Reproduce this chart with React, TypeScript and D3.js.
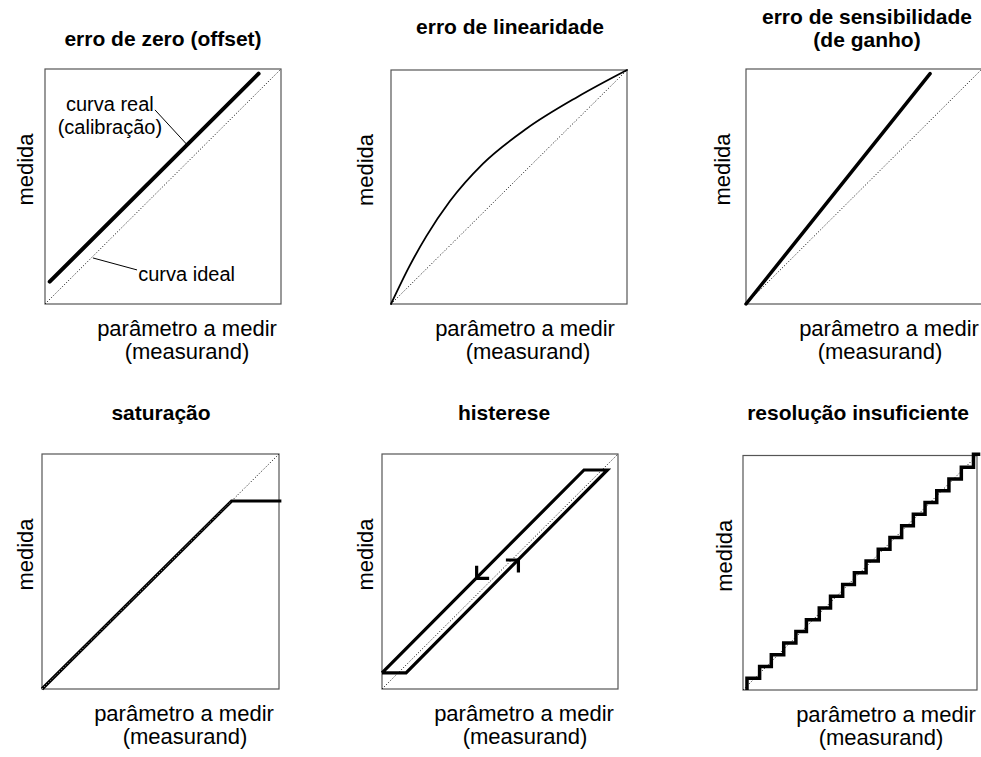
import { useEffect, useRef } from "react";
import * as d3 from "d3";

type Pt = [number, number];

// Titles, one entry per panel (multi-line titles are arrays of lines).
const TITLES: string[][] = [
  ["erro de zero (offset)"],
  ["erro de linearidade"],
  ["erro de sensibilidade", "(de ganho)"],
  ["saturação"],
  ["histerese"],
  ["resolução insuficiente"],
];
const X_LABEL = ["parâmetro a medir", "(measurand)"];
const Y_LABEL = "medida";

// All curves live in a normalised 0..1 space (measurand -> medida).
const IDEAL: Pt[] = [[0, 0], [1, 1]];
const OFFSET_REAL: Pt[] = [[0.02, 0.095], [0.905, 0.98]];
const LINEARITY_REAL: Pt[] = [
  [0, 0], [0.08, 0.165], [0.15, 0.29], [0.25, 0.44], [0.39, 0.6],
  [0.575, 0.75], [0.79, 0.885], [1, 1],
];
const GAIN_REAL: Pt[] = [[0, 0], [0.78, 0.98]];
const SATURATION_REAL: Pt[] = [[0, 0], [0.8, 0.8], [1.01, 0.8]];
const HYSTERESIS_LOOP: Pt[] = [[0, 0.069], [0.102, 0.069], [0.955, 0.932], [0.856, 0.932]];
// arrow tips on the two branches: going down on the upper one, up on the lower one
const HYSTERESIS_ARROWS: { at: Pt; dir: "down" | "up" }[] = [
  { at: [0.401, 0.471], dir: "down" },
  { at: [0.578, 0.549], dir: "up" },
];
// quantised response: riser positions and the level reached after each riser
const STEP_X = [
  0.017, 0.071, 0.121, 0.174, 0.226, 0.271, 0.326, 0.374, 0.426, 0.476,
  0.526, 0.578, 0.628, 0.678, 0.728, 0.778, 0.828, 0.88, 0.933, 0.985,
];
const STEP_LEVEL = [
  0.05, 0.1, 0.15, 0.2, 0.25, 0.3, 0.35, 0.4, 0.45, 0.5,
  0.55, 0.6, 0.65, 0.7, 0.75, 0.8, 0.85, 0.9, 0.95, 1.005,
];
const STEP_END_X = 1.014;

// callouts on the offset panel (text centred on `at`)
const CALLOUTS: { lines: string[]; at: Pt; leader: [Pt, Pt] }[] = [
  { lines: ["curva real", "(calibração)"], at: [0.275, 0.822], leader: [[0.466, 0.826], [0.6, 0.68]] },
  { lines: ["curva ideal"], at: [0.6, 0.098], leader: [[0.203, 0.196], [0.39, 0.145]] },
];

// Panel boxes in page pixels.
const LAYOUT = [
  { x: 45, y: 69, w: 236, h: 235, titleY: [46], titleX: 163, labelX: [187, 187], medidaX: 33 },
  { x: 391, y: 70, w: 236, h: 234, titleY: [34], titleX: 510, labelX: [525, 528], medidaX: 373 },
  { x: 746, y: 69, w: 236, h: 235, titleY: [24, 47], titleX: 867, labelX: [889, 880], medidaX: 730 },
  { x: 42, y: 454, w: 237, h: 235, titleY: [420], titleX: 161, labelX: [184, 185], medidaX: 33 },
  { x: 382, y: 454, w: 236, h: 235, titleY: [420], titleX: 504, labelX: [524, 525], medidaX: 373 },
  { x: 743, y: 455.5, w: 234, h: 234.5, titleY: [420], titleX: 858, labelX: [886, 881], medidaX: 732 },
];

const FONT = "'Liberation Sans', Arial, Helvetica, sans-serif";

export default function App(): JSX.Element {
  const svgRef = useRef<SVGSVGElement | null>(null);

  useEffect(() => {
    if (!svgRef.current) return;
    const svg = d3.select(svgRef.current);
    svg.selectAll("*").remove();

    LAYOUT.forEach((p, i) => {
      const x = d3.scaleLinear().domain([0, 1]).range([p.x, p.x + p.w]);
      const y = d3.scaleLinear().domain([0, 1]).range([p.y + p.h, p.y]);
      const line = d3.line<Pt>().x((d) => x(d[0])).y((d) => y(d[1]));
      const g = svg.append("g");

      g.append("rect")
        .attr("x", x(0))
        .attr("y", y(1))
        .attr("width", x(1) - x(0))
        .attr("height", y(0) - y(1))
        .attr("fill", "none")
        .attr("stroke", "#555")
        .attr("stroke-width", 1.2);

      // ideal response, dotted diagonal
      g.append("path")
        .attr("d", line(IDEAL))
        .attr("fill", "none")
        .attr("stroke", "#000")
        .attr("stroke-width", 1)
        .attr("stroke-dasharray", "1,2");

      const real = (pts: Pt[], w: number, curve: d3.CurveFactory = d3.curveLinear) =>
        g.append("path")
          .attr("d", line.curve(curve)(pts))
          .attr("fill", "none")
          .attr("stroke", "#000")
          .attr("stroke-width", w)
          .attr("stroke-linejoin", "miter")
          .attr("stroke-linecap", "round");

      if (i === 0) {
        real(OFFSET_REAL, 4);
        CALLOUTS.forEach((c) => {
          g.append("path")
            .attr("d", line.curve(d3.curveLinear)(c.leader))
            .attr("stroke", "#000")
            .attr("stroke-width", 1);
          c.lines.forEach((t, k) => {
            g.append("text")
              .attr("x", x(c.at[0]))
              .attr("y", y(c.at[1]) + k * 23)
              .attr("text-anchor", "middle")
              .attr("font-family", FONT)
              .attr("font-size", 20)
              .text(t);
          });
        });
      } else if (i === 1) {
        real(LINEARITY_REAL, 1.8, d3.curveMonotoneX);
      } else if (i === 2) {
        real(GAIN_REAL, 3.5);
      } else if (i === 3) {
        real(SATURATION_REAL, 3.2).attr("stroke-linecap", "butt");
        // the ideal dots still show faintly through the coincident segment
        g.append("path")
          .attr("d", line.curve(d3.curveLinear)(SATURATION_REAL.slice(0, 2)))
          .attr("fill", "none")
          .attr("stroke", "#bbb")
          .attr("stroke-width", 1)
          .attr("stroke-dasharray", "1,2");
      } else if (i === 4) {
        real([...HYSTERESIS_LOOP, HYSTERESIS_LOOP[0]], 3.2).attr("stroke-linecap", "butt");
        // little L-shaped heads: 12.5px legs, one vertical and one horizontal
        const leg = 12.5;
        HYSTERESIS_ARROWS.forEach((a) => {
          const ax = x(a.at[0]);
          const ay = y(a.at[1]);
          const s = a.dir === "down" ? -1 : 1;
          g.append("path")
            .attr("d", `M${ax},${ay + s * leg}L${ax},${ay}L${ax - s * leg},${ay}`)
            .attr("fill", "none")
            .attr("stroke", "#000")
            .attr("stroke-width", 3.2);
        });
      } else {
        const pts: Pt[] = [[STEP_X[0], 0]];
        STEP_X.forEach((sx, k) => {
          pts.push([sx, k === 0 ? 0 : STEP_LEVEL[k - 1]]);
          pts.push([sx, STEP_LEVEL[k]]);
        });
        pts.push([STEP_END_X, STEP_LEVEL[STEP_LEVEL.length - 1]]);
        real(pts, 3.5).attr("stroke-linecap", "butt");
      }

      // titles
      TITLES[i].forEach((t, k) => {
        g.append("text")
          .attr("x", p.titleX)
          .attr("y", p.titleY[k])
          .attr("text-anchor", "middle")
          .attr("font-family", FONT)
          .attr("font-weight", "bold")
          .attr("font-size", 21)
          .text(t);
      });

      // axis labels
      const base = p.y + p.h;
      X_LABEL.forEach((t, k) => {
        g.append("text")
          .attr("x", p.labelX[k])
          .attr("y", base + 32 + k * 23)
          .attr("text-anchor", "middle")
          .attr("font-family", FONT)
          .attr("font-size", 22)
          .text(t);
      });
      g.append("text")
        .attr("transform", `translate(${p.medidaX},${p.y + p.h / 2 - 17}) rotate(-90)`)
        .attr("text-anchor", "middle")
        .attr("font-family", FONT)
        .attr("font-size", 22)
        .text(Y_LABEL);
    });
  }, []);

  return (
    <svg
      ref={svgRef}
      width={981}
      height={757}
      style={{ position: "absolute", left: 0, top: 0, background: "#fff" }}
    />
  );
}
